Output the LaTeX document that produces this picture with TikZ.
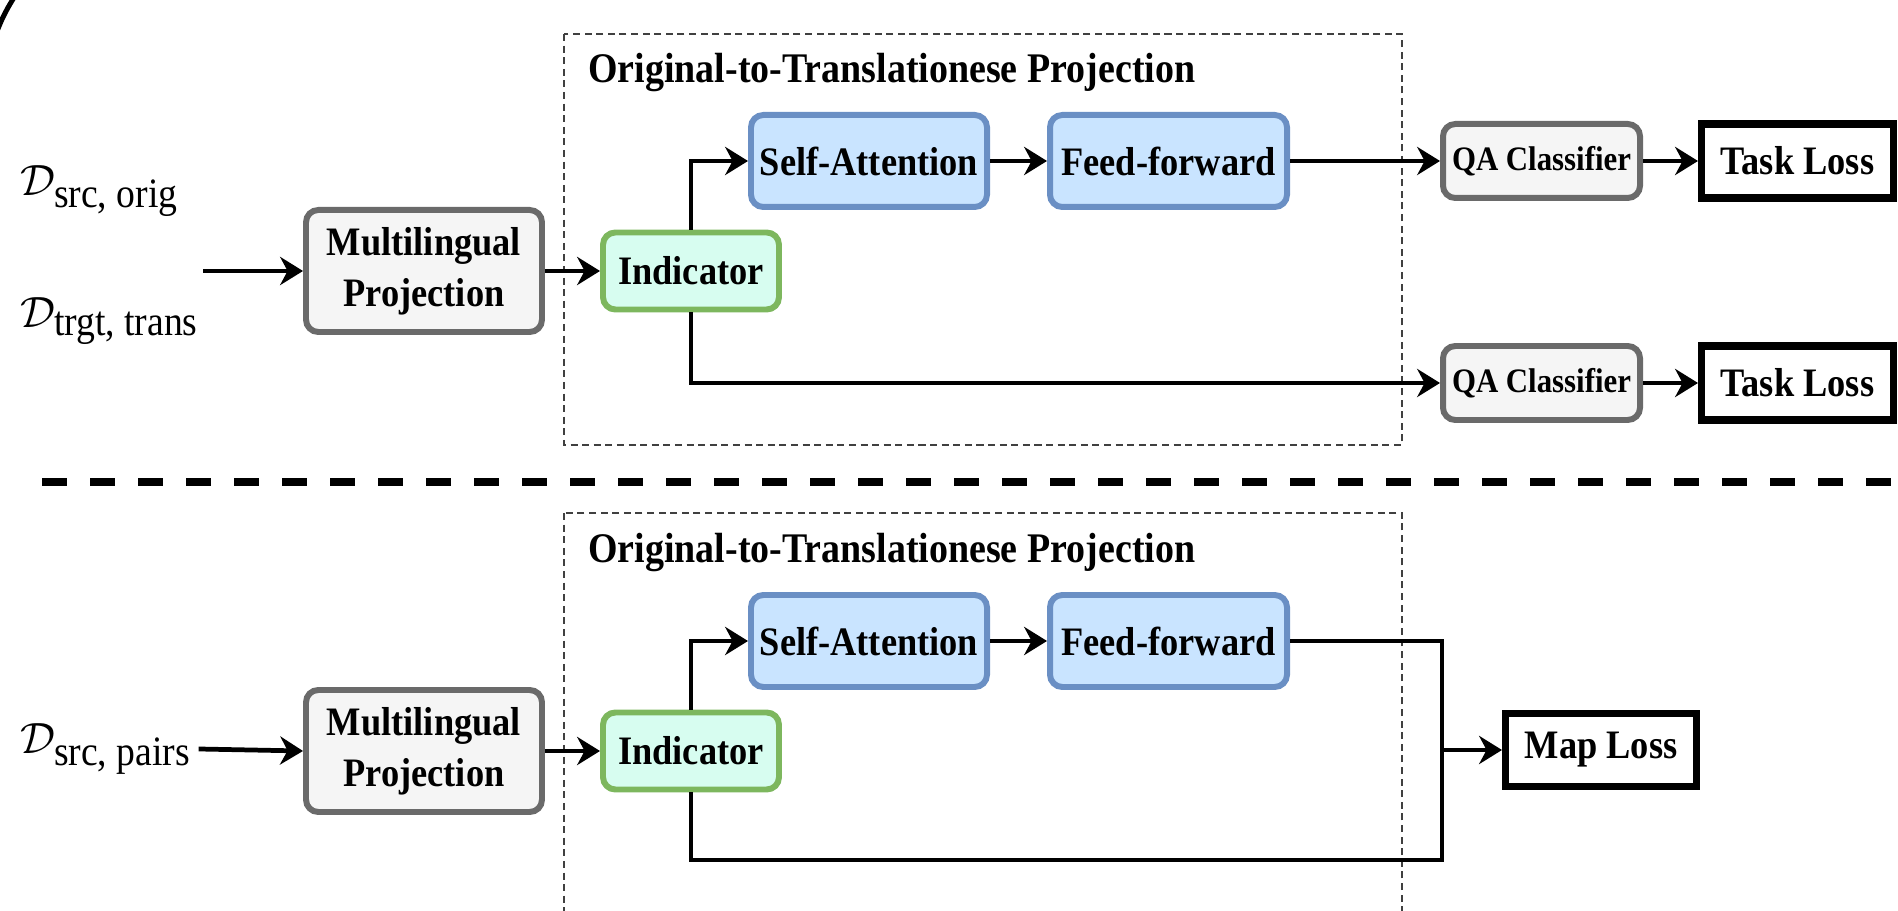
\documentclass[tikz,border=0pt]{standalone}
\usepackage{amsmath}
\usepackage{fontspec}
\setmainfont{Liberation Serif}[FakeStretch=0.9]
\usepackage{tikz}
\usetikzlibrary{arrows.meta,positioning}

\definecolor{grayfill}{HTML}{F5F5F5}
\definecolor{grayline}{HTML}{6A6A6A}
\definecolor{mintfill}{HTML}{D7FDF0}
\definecolor{mintline}{HTML}{7DB75E}
\definecolor{bluefill}{HTML}{C9E4FF}
\definecolor{blueline}{HTML}{6A8FC4}

\begin{document}
\begin{tikzpicture}[
  graybox/.style={draw=grayline,fill=grayfill,line width=3.4pt,rounded corners=7pt,align=center,
                  inner sep=0pt,font=\fontsize{23}{29}\selectfont\bfseries},
  indbox/.style={graybox,draw=mintline,fill=mintfill},
  bluebox/.style={graybox,draw=blueline,fill=bluefill},
  clsbox/.style={graybox,font=\fontsize{19.5}{22}\selectfont\bfseries,
                 minimum width=3.94cm,minimum height=1.48cm},
  lossbox/.style={draw,line width=4pt,inner sep=0pt,font=\fontsize{23}{26}\selectfont\bfseries,
                  minimum width=3.84cm,minimum height=1.48cm},
  data/.style={anchor=west,inner sep=0pt,font=\fontsize{34}{38}\selectfont},
  title/.style={anchor=west,inner sep=0pt,font=\fontsize{24}{27}\selectfont\bfseries},
  frame/.style={draw=black!75,line width=1.1pt,dash pattern=on 4pt off 2.6pt},
  sep/.style={line width=0.16cm,dash pattern=on 0.5cm off 0.46cm},
  arr/.style={-{Stealth[length=13pt,width=16pt]},line width=2.7pt},
  arrthin/.style={arr,line width=2pt},
  wire/.style={line width=2.7pt,line join=miter}
]
\clip (0,0) rectangle (37.96,18.22);

%% Corner stroke
\draw[line width=0.1cm] (-0.05,17.62) .. controls (0.06,17.9) and (0.16,18.08) .. (0.3,18.3);

%% Projection frames and separator
\draw[frame] (11.28,17.54) rectangle (28.04,9.32);
\draw[frame] (11.28,7.96) rectangle (28.04,-1);
\node[title] (t1) at (11.76,16.76) {Original-to-Translationese Projection};
\node[title] (t2) at (11.76,7.16) {Original-to-Translationese Projection};
\draw[sep] (0.84,8.58) -- (37.96,8.58);

%% Upper pipeline: task training
\node[data] (dso) at (0.4,14.4) {$\mathcal{D}_{\text{src, orig}}$};
\node[data] (dtt) at (0.4,11.8) {$\mathcal{D}_{\text{trgt, trans}}$};
\coordinate (in1) at (4.06,12.8);
\node[graybox,minimum width=4.72cm,minimum height=2.44cm] (mp1) at (8.48,12.8) {Multilingual\\Projection};
\node[indbox,minimum width=3.52cm,minimum height=1.54cm] (ind1) at (13.82,12.8) {Indicator};
\node[bluebox,minimum width=4.72cm,minimum height=1.84cm] (sa1) at (17.38,15.0) {Self-Attention};
\node[bluebox,minimum width=4.74cm,minimum height=1.84cm] (ff1) at (23.37,15.0) {Feed-forward};
\node[clsbox] (qa1) at (30.83,15.0) {QA Classifier};
\node[lossbox] (tl1) at (35.95,15.0) {Task Loss};
\node[clsbox] (qa2) at (30.83,10.56) {QA Classifier};
\node[lossbox] (tl2) at (35.95,10.56) {Task Loss};

\draw[arr] (in1) -- (mp1.west);
\draw[arr] (mp1) -- (ind1);
\draw[arr] (ind1.north) |- (sa1.west);
\draw[arr] (sa1) -- (ff1);
\draw[arrthin] (ff1) -- (qa1);
\draw[arr] (qa1) -- (tl1);
\draw[arrthin] (ind1.south) |- (qa2.west);
\draw[arr] (qa2) -- (tl2);

%% Lower pipeline: mapping
\node[data] (dsp) at (0.4,3.24) {$\mathcal{D}_{\text{src, pairs}}$};
\node[graybox,minimum width=4.72cm,minimum height=2.44cm] (mp2) at (8.48,3.2) {Multilingual\\Projection};
\node[indbox,minimum width=3.52cm,minimum height=1.54cm] (ind2) at (13.82,3.2) {Indicator};
\node[bluebox,minimum width=4.72cm,minimum height=1.84cm] (sa2) at (17.38,5.4) {Self-Attention};
\node[bluebox,minimum width=4.74cm,minimum height=1.84cm] (ff2) at (23.37,5.4) {Feed-forward};
\coordinate (jtop) at (28.84,5.4);
\coordinate (jbot) at (28.84,1.02);
\coordinate (jmid) at (28.84,3.22);
\node[lossbox,minimum width=3.82cm,minimum height=1.46cm] (ml) at (32.02,3.22) {Map Loss};

\draw[arr] (dsp.east) ++(0.15,0) -- (mp2.west);
\draw[arr] (mp2) -- (ind2);
\draw[arr] (ind2.north) |- (sa2.west);
\draw[arr] (sa2) -- (ff2);
\draw[wire] (ff2.east) -- (jtop) -- (jbot) -| (ind2.south);
\draw[arr] (jmid) -- (ml.west);
\end{tikzpicture}
\end{document}
